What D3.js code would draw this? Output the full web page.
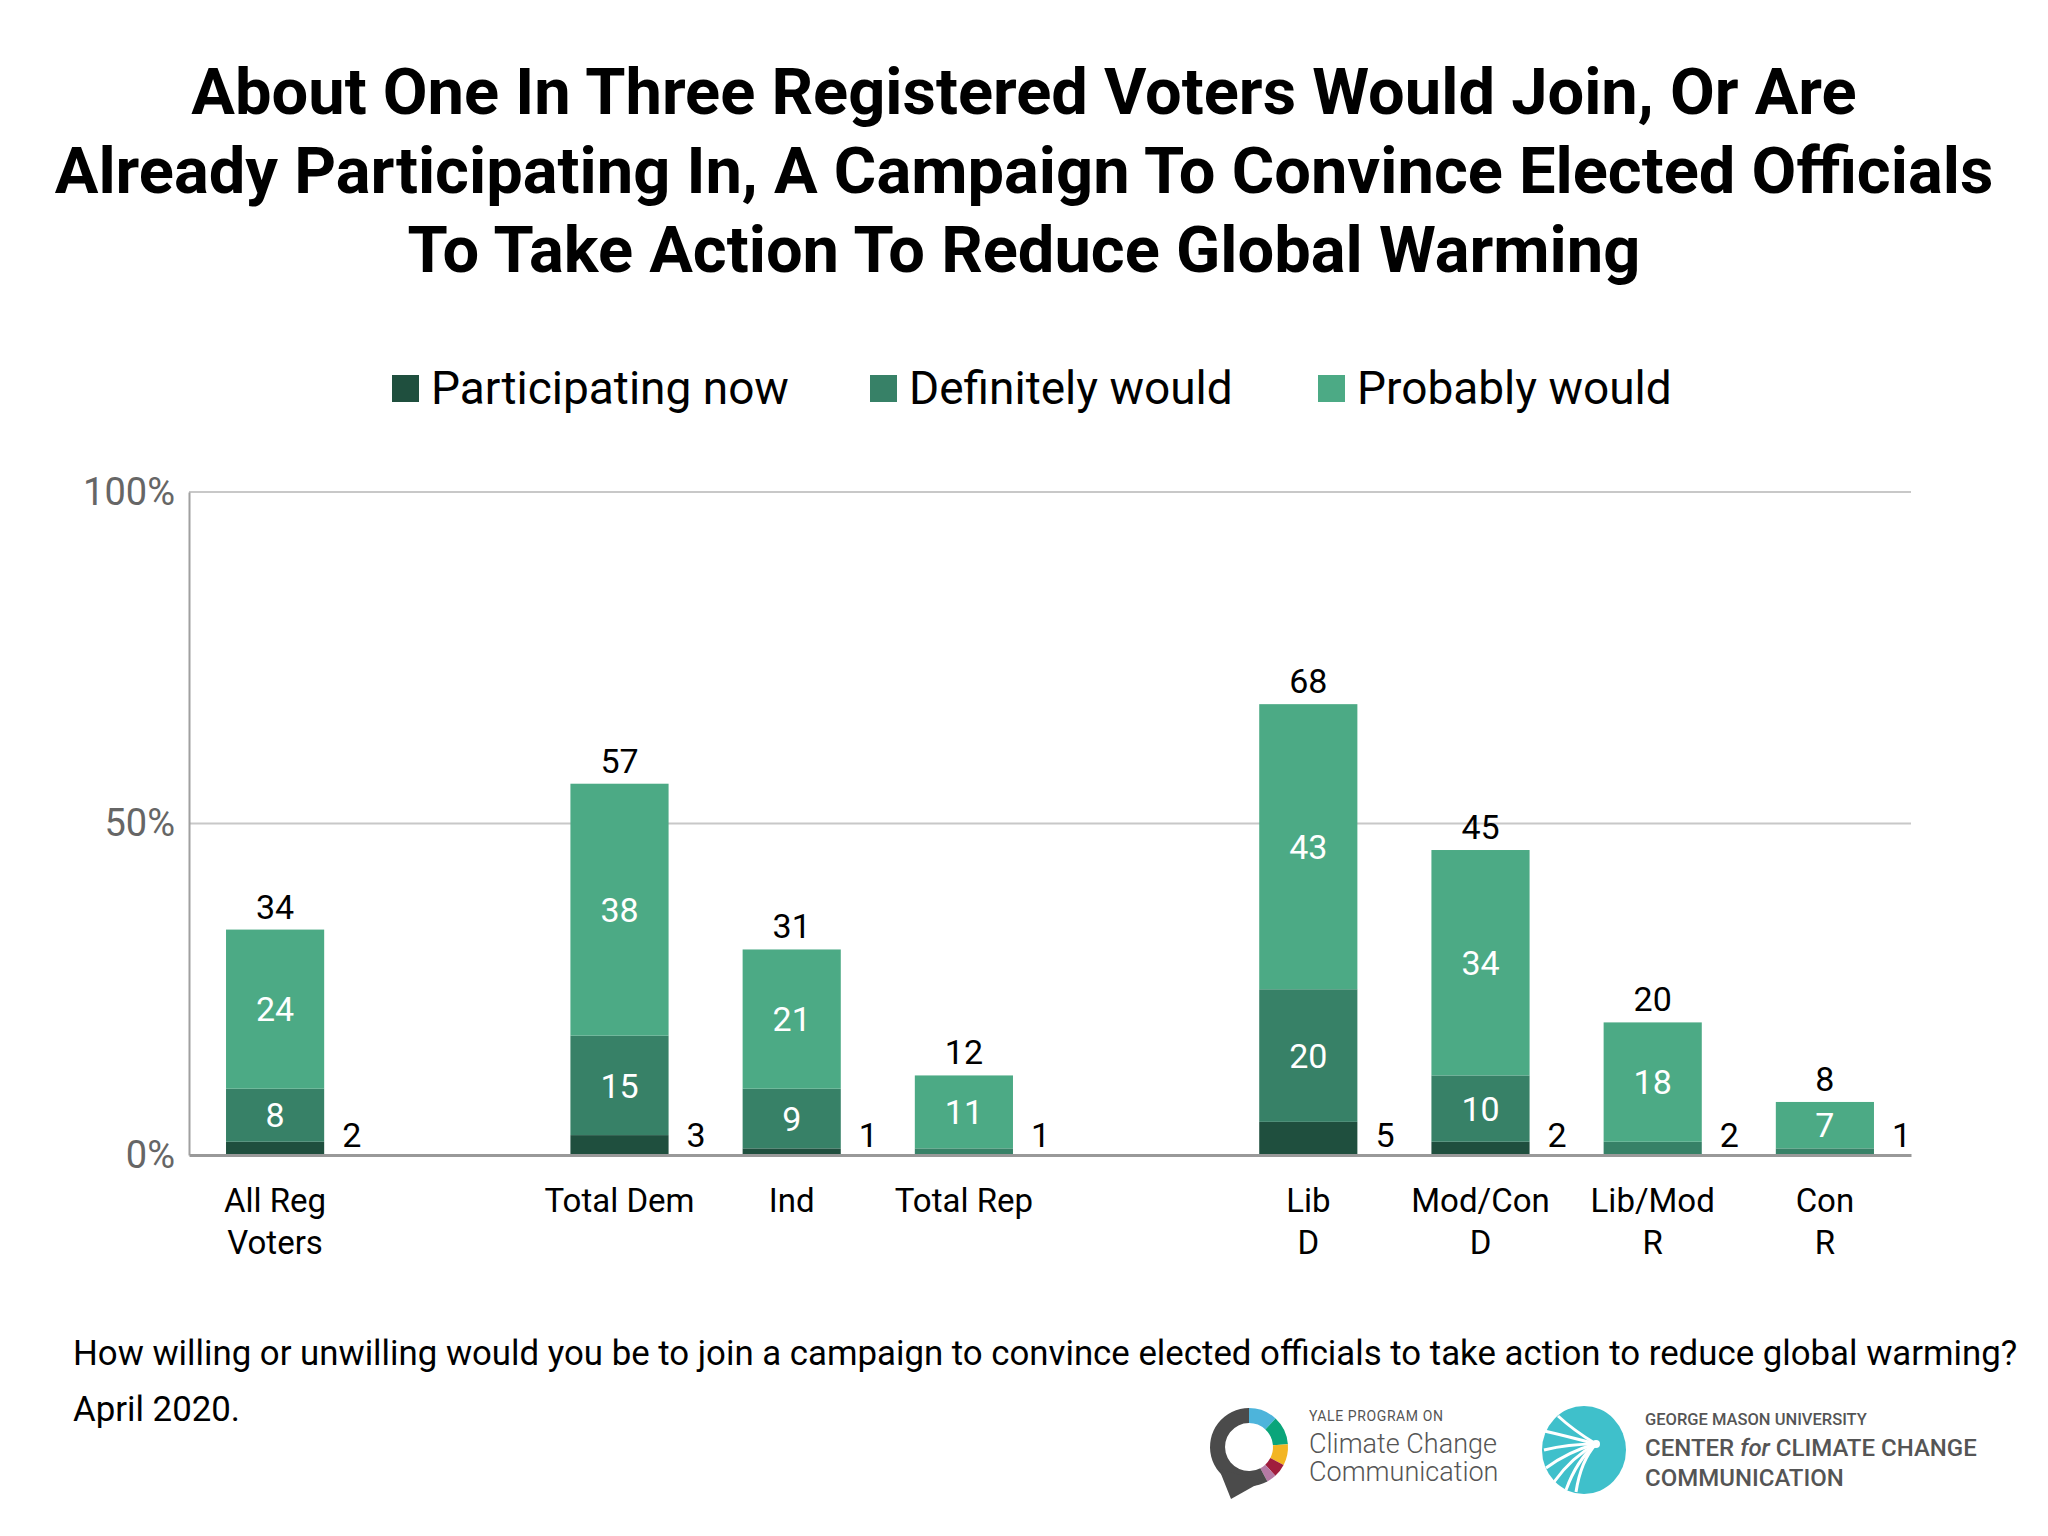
<!DOCTYPE html>
<html>
<head>
<meta charset="utf-8">
<script src="https://cdn.jsdelivr.net/npm/d3@7/dist/d3.min.js"></script>
<style>
  html, body { margin: 0; padding: 0; background: #fff; }
  svg { display: block; font-family: Roboto, "Noto Sans", sans-serif; }
</style>
</head>
<body>
<svg id="chart" width="2048" height="1536"></svg>
<script>
// ---------- DATA ----------
const titleLines = [
  "About One In Three Registered Voters Would Join, Or Are",
  "Already Participating In, A Campaign To Convince Elected Officials",
  "To Take Action To Reduce Global Warming"
];
const seriesNames = ["Participating now", "Definitely would", "Probably would"];
const seriesColors = ["#1f4f3e", "#378167", "#4caa85"];
const categories = ["All Reg Voters", "Total Dem", "Ind", "Total Rep", "Lib D", "Mod/Con D", "Lib/Mod R", "Con R"];
const categoryLines = [["All Reg", "Voters"], ["Total Dem"], ["Ind"], ["Total Rep"], ["Lib", "D"], ["Mod/Con", "D"], ["Lib/Mod", "R"], ["Con", "R"]];
const axisSlots = ["All Reg Voters", "gap1", "Total Dem", "Ind", "Total Rep", "gap2", "Lib D", "Mod/Con D", "Lib/Mod R", "Con R"];
const participating = [2, 3, 1, 0, 5, 2, 0, 0];
const definitely = [8, 15, 9, 1, 20, 10, 2, 1];
const probably = [24, 38, 21, 11, 43, 34, 18, 7];
const totals = [34, 57, 31, 12, 68, 45, 20, 8];
const sideLabels = [2, 3, 1, 1, 5, 2, 2, 1];
const yTicks = [0, 50, 100];
const yTickLabels = ["0%", "50%", "100%"];
const footLines = [
  "How willing or unwilling would you be to join a campaign to convince elected officials to take action to reduce global warming?",
  "April 2020."
];

// ---------- LAYOUT ----------
const svg = d3.select("#chart");
const plot = { left: 189, right: 1911, top: 492, bottom: 1155 };

const x = d3.scaleBand().domain(axisSlots).range([plot.left, plot.right])
  .paddingInner(0.43).paddingOuter(0.215);
const y = d3.scaleLinear().domain([0, 100]).range([plot.bottom, plot.top]);

// Title
svg.append("g").selectAll("text").data(titleLines).join("text")
  .attr("x", 1024).attr("y", (d, i) => 114 + i * 79)
  .attr("text-anchor", "middle")
  .attr("font-size", 65).attr("font-weight", 700).attr("fill", "#000")
  .text(d => d);

// Legend
const legendX = [392, 870, 1318];
const lg = svg.append("g").selectAll("g").data(seriesNames).join("g")
  .attr("transform", (d, i) => `translate(${legendX[i]},0)`);
lg.append("rect").attr("x", 0).attr("y", 375).attr("width", 27).attr("height", 27)
  .attr("fill", (d, i) => seriesColors[i]);
lg.append("text").attr("x", 39).attr("y", 404)
  .attr("font-size", 46).attr("fill", "#000").text(d => d);

// Gridlines
svg.append("g").selectAll("line").data(yTicks.filter(t => t > 0)).join("line")
  .attr("x1", plot.left).attr("x2", plot.right)
  .attr("y1", d => y(d)).attr("y2", d => y(d))
  .attr("stroke", "#c8c8c8").attr("stroke-width", 2);

// Y axis
const yAxis = d3.axisLeft(y).tickValues(yTicks).tickSize(0).tickPadding(14)
  .tickFormat((d, i) => yTickLabels[i]);
const yg = svg.append("g").attr("transform", `translate(${plot.left},0)`).call(yAxis);
yg.select(".domain").attr("stroke", "#a0a0a0").attr("stroke-width", 2);
yg.selectAll("text").attr("font-size", 38).attr("fill", "#666").attr("font-weight", 400)
  .attr("font-family", "Roboto, sans-serif").attr("dy", "0.32em");

// Stacked bars
const rows = categories.map((c, i) => ({
  cat: c, idx: i,
  "Participating now": participating[i],
  "Definitely would": definitely[i],
  "Probably would": probably[i]
}));
const stack = d3.stack().keys(seriesNames)(rows);

const barsG = svg.append("g");
stack.forEach((layer, li) => {
  barsG.append("g").selectAll("rect").data(layer).join("rect")
    .attr("x", d => x(d.data.cat))
    .attr("width", x.bandwidth())
    .attr("y", d => y(d[1]))
    .attr("height", d => y(d[0]) - y(d[1]))
    .attr("fill", seriesColors[li]);
});

// Inside labels (definitely & probably)
stack.forEach((layer, li) => {
  if (li === 0) return;
  barsG.append("g").selectAll("text").data(layer.filter(d => (d[1] - d[0]) >= 3)).join("text")
    .attr("x", d => x(d.data.cat) + x.bandwidth() / 2)
    .attr("y", d => (y(d[0]) + y(d[1])) / 2)
    .attr("dy", "0.36em")
    .attr("text-anchor", "middle")
    .attr("font-size", 34).attr("fill", "#fff")
    .text(d => d[1] - d[0]);
});

// Total labels
const topVals = stack[stack.length - 1];
barsG.append("g").selectAll("text").data(topVals).join("text")
  .attr("x", d => x(d.data.cat) + x.bandwidth() / 2)
  .attr("y", d => y(d[1]) - 11)
  .attr("text-anchor", "middle")
  .attr("font-size", 34).attr("fill", "#000")
  .text((d, i) => totals[i]);

// Side labels
barsG.append("g").selectAll("text").data(categories).join("text")
  .attr("x", d => x(d) + x.bandwidth() + 18)
  .attr("y", y(0) - 8)
  .attr("text-anchor", "start")
  .attr("font-size", 34).attr("fill", "#000")
  .text((d, i) => sideLabels[i]);

// X axis line
const xAxis = d3.axisBottom(x).tickSize(0).tickFormat("");
const xg = svg.append("g").attr("transform", `translate(0,${plot.bottom})`).call(xAxis);
xg.select(".domain").attr("stroke", "#999").attr("stroke-width", 3);

// Category labels
const catG = svg.append("g").selectAll("text").data(categories).join("text")
  .attr("text-anchor", "middle")
  .attr("font-size", 33).attr("fill", "#000");
catG.each(function(d, i) {
  const t = d3.select(this);
  categoryLines[i].forEach((line, li) => {
    t.append("tspan").attr("x", x(d) + x.bandwidth() / 2).attr("y", 1212 + li * 42).text(line);
  });
});

// Footnote
svg.append("g").selectAll("text").data(footLines).join("text")
  .attr("x", 73).attr("y", (d, i) => 1365 + i * 56)
  .attr("font-size", 34.8).attr("fill", "#000")
  .text(d => d);

// ---------- LOGOS ----------
// Yale Program on Climate Change Communication
const yale = svg.append("g").attr("transform", "translate(1249,1447)");
const ringArc = d3.arc().innerRadius(24).outerRadius(39);
const ringSegs = [
  { a0: 0, a1: 0.75, c: "#4db4db" },
  { a0: 0.75, a1: 1.5, c: "#0aa57a" },
  { a0: 1.5, a1: 2.05, c: "#f3b523" },
  { a0: 2.05, a1: 2.4, c: "#a01d3d" },
  { a0: 2.4, a1: 2.65, c: "#b57aa5" },
  { a0: 2.65, a1: 2 * Math.PI, c: "#4b4b4b" }
];
yale.selectAll("path.seg").data(ringSegs).join("path").attr("class", "seg")
  .attr("d", d => ringArc({ startAngle: d.a0, endAngle: d.a1 }))
  .attr("fill", d => d.c);
yale.append("path").attr("d", "M-30,22 L-18,52 L14,34 Z").attr("fill", "#4b4b4b");
yale.append("text").attr("x", 60).attr("y", -26).attr("font-size", 14).attr("fill", "#555")
  .attr("letter-spacing", 0.6).text("YALE PROGRAM ON");
yale.append("text").attr("x", 60).attr("y", 6).attr("font-size", 27).attr("fill", "#555")
  .attr("font-weight", 300).text("Climate Change");
yale.append("text").attr("x", 60).attr("y", 34).attr("font-size", 27).attr("fill", "#555")
  .attr("font-weight", 300).text("Communication");

// George Mason Center for Climate Change Communication
const gmu = svg.append("g").attr("transform", "translate(1584,1450)");
gmu.append("ellipse").attr("rx", 42).attr("ry", 44).attr("fill", "#3fc0cb");
const burst = [[-44, -20], [-40, 0], [-38, 18], [-30, 32], [-18, 40], [-8, 42], [-26, -34]];
gmu.selectAll("path.b").data(burst).join("path").attr("class", "b")
  .attr("d", d => `M12,-6 Q${d[0] * 0.4},${d[1] * 0.4 - 6} ${d[0]},${d[1]}`)
  .attr("stroke", "#fff").attr("stroke-width", 3).attr("fill", "none");
gmu.append("circle").attr("cx", 12).attr("cy", -6).attr("r", 4).attr("fill", "#fff");
gmu.append("text").attr("x", 61).attr("y", -25).attr("font-size", 16.5).attr("fill", "#555")
  .attr("font-weight", 500).text("GEORGE MASON UNIVERSITY");
const ct = gmu.append("text").attr("x", 61).attr("y", 6).attr("font-size", 24).attr("fill", "#555")
  .attr("font-weight", 500);
ct.append("tspan").text("CENTER ");
ct.append("tspan").attr("font-style", "italic").text("for");
ct.append("tspan").text(" CLIMATE CHANGE");
gmu.append("text").attr("x", 61).attr("y", 36).attr("font-size", 24).attr("fill", "#555")
  .attr("font-weight", 500).text("COMMUNICATION");
</script>
</body>
</html>
